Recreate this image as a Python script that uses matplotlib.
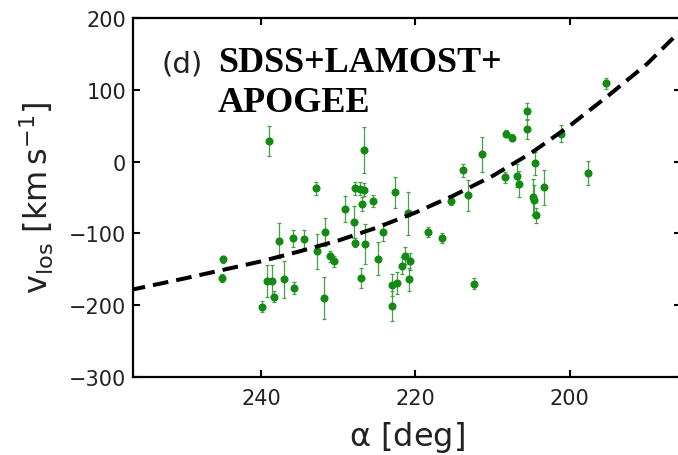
import matplotlib
matplotlib.use("Agg")
import matplotlib.pyplot as plt

plt.rcParams['mathtext.default'] = 'regular'

# ---- data ----
alpha = [244.9, 245.0, 238.9, 239.9, 239.2, 238.6, 238.3, 237.7, 237.0, 235.9,
         235.7, 234.4, 232.9, 232.8, 231.7, 231.8, 231.0, 230.5, 229.1, 228.0,
         227.8, 227.8, 227.2, 226.7, 226.9, 227.0, 226.7, 226.5, 225.5, 224.8,
         224.2, 222.7, 223.0, 222.4, 223.0, 221.7, 221.3, 220.7, 221.0, 220.8,
         218.4, 216.6, 215.4, 213.8, 213.2, 212.4, 211.4, 208.4, 208.3, 207.5,
         206.8, 206.6, 205.6, 205.5, 204.5, 204.8, 204.7, 204.4, 203.4, 201.1,
         197.6, 195.3]
vlos = [-136, -162, 29, -202, -166, -166, -188, -110, -164, -107,
        -176, -108, -37, -125, -98, -190, -132, -139, -66, -84,
        -113, -37, -38, -39, -59, -162, 16, -115, -55, -135,
        -98, -43, -172, -169, -201, -145, -131, -139, -72, -164,
        -98, -106, -55, -12, -47, -170, 10, -22, 39, 33,
        -20, -31, 70, 45, -2, -49, -53, -75, -36, 39,
        -16, 109]
verr = [5, 5, 21, 8, 22, 22, 8, 24, 26, 12,
        8, 13, 9, 24, 20, 29, 8, 8, 18, 22,
        6, 9, 9, 9, 10, 14, 32, 28, 8, 23,
        13, 22, 15, 15, 21, 12, 12, 12, 30, 16,
        7, 7, 5, 9, 22, 8, 24, 8, 5, 5,
        16, 18, 12, 14, 16, 25, 20, 11, 24, 12,
        17, 8]

model_alpha = [257, 250, 245, 240, 235, 230, 225, 220, 215, 210, 205, 200, 195, 190, 185.5]
model_v = [-179, -163, -151, -139, -125, -110, -92, -71, -47, -20, 12, 50, 92, 136, 184]

xticks = [240, 220, 200]
yticks = [-300, -200, -100, 0, 100, 200]

W, H = 678, 456
fig = plt.figure(figsize=(W / 100, H / 100), dpi=100)
left, right, top, bottom = 133, 681, 19, 378
ax = fig.add_axes([left / W, 1 - bottom / H, (right - left) / W, (bottom - top) / H])

ax.errorbar(alpha, vlos, yerr=verr, fmt='o', color='#138a13', markersize=4.8,
            ecolor='#46a046', elinewidth=0.9, capsize=1.6, capthick=0.9, zorder=3)
ax.plot(model_alpha, model_v, color='black', lw=2.9, linestyle=(0, (3.9, 2.0)), zorder=4)

ax.set_xlim(256.57, 185.6)
ax.set_ylim(-300, 200)
ax.set_xticks(xticks)
ax.set_yticks(yticks)

for s in ax.spines.values():
    s.set_linewidth(1.6)
ax.tick_params(direction='in', length=5, width=1.5, top=True, right=True,
               labelsize=15, labelcolor='#222222')
ax.tick_params(axis='x', pad=8)
ax.tick_params(axis='y', pad=5)

ax.set_xlabel(r'$\alpha$ [deg]', fontsize=23, labelpad=8, color='#222222')
ax.set_ylabel(r'$\mathregular{v_{los}}$ [km$\,$s$^{-1}$]', fontsize=23, labelpad=9,
              color='#222222')

fig.text(162 / W, 1 - 72 / H, '(d)', fontsize=21, ha='left', va='baseline',
         family='DejaVu Sans', color='#222222')
fig.text(218 / W, 1 - 72 / H, 'SDSS+LAMOST+', fontsize=26, ha='left', va='baseline',
         family='Liberation Serif', weight='bold')
fig.text(218 / W, 1 - 112 / H, 'APOGEE', fontsize=26, ha='left', va='baseline',
         family='Liberation Serif', weight='bold')

fig.savefig('out.png', dpi=100)
